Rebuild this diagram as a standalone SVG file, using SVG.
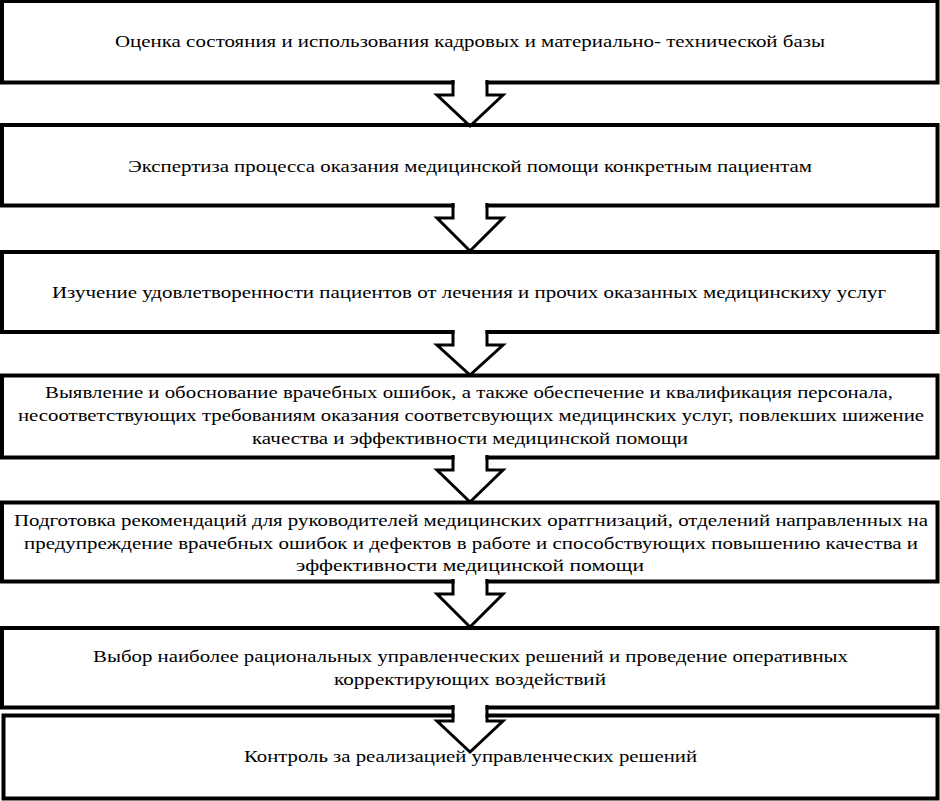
<svg xmlns="http://www.w3.org/2000/svg" width="940" height="801" viewBox="0 0 940 801">
<style>
.box{fill:#fff;stroke:#000;stroke-width:4}
.t{font-family:'Liberation Serif','Times New Roman','DejaVu Serif',serif;font-size:17px;fill:#000;text-anchor:middle}
.arr{fill:none;stroke:#000;stroke-width:3;stroke-linejoin:miter}
.gap{fill:#fff}
</style>
<rect width="940" height="801" fill="#fff"/>
<g id="node1">
<rect class="box" x="2" y="1" width="935.5" height="81.5"/>
<text class="t" x="470" y="47" textLength="710" lengthAdjust="spacingAndGlyphs">Оценка состояния и использования кадровых и материально- технической базы</text>
</g>
<g id="node2">
<rect class="box" x="2" y="125" width="935.5" height="80.5"/>
<text class="t" x="470" y="172" textLength="684" lengthAdjust="spacingAndGlyphs">Экспертиза процесса оказания медицинской помощи конкретным пациентам</text>
</g>
<g id="node3">
<rect class="box" x="2" y="252" width="935.5" height="80"/>
<text class="t" x="469" y="298" textLength="834" lengthAdjust="spacingAndGlyphs">Изучение удовлетворенности пациентов от лечения и прочих оказанных медицинскиху услуг</text>
</g>
<g id="node4">
<rect class="box" x="2" y="375.5" width="935.5" height="82"/>
<text class="t" x="469" y="398" textLength="848" lengthAdjust="spacingAndGlyphs">Выявление и обоснование врачебных ошибок, а также обеспечение и квалификация персонала,</text>
<text class="t" x="471" y="421" textLength="906" lengthAdjust="spacingAndGlyphs">несоответствующих требованиям оказания соответсвующих медицинских услуг, повлекших шижение</text>
<text class="t" x="470" y="444" textLength="436" lengthAdjust="spacingAndGlyphs">качества и эффективности медицинской помощи</text>
</g>
<g id="node5">
<rect class="box" x="2" y="502.5" width="935.5" height="79"/>
<text class="t" x="471" y="526" textLength="914" lengthAdjust="spacingAndGlyphs">Подготовка рекомендаций для руководителей медицинских оратгнизаций, отделений направленных на</text>
<text class="t" x="471" y="549" textLength="894" lengthAdjust="spacingAndGlyphs">предупреждение врачебных ошибок и дефектов в работе и способствующих повышению качества и</text>
<text class="t" x="470" y="571" textLength="348" lengthAdjust="spacingAndGlyphs">эффективности медицинской помощи</text>
</g>
<g id="node6">
<rect class="box" x="2" y="628" width="935.5" height="79.5"/>
<text class="t" x="470.5" y="662" textLength="755" lengthAdjust="spacingAndGlyphs">Выбор наиболее рациональных управленческих решений и проведение оперативных</text>
<text class="t" x="470" y="685" textLength="272" lengthAdjust="spacingAndGlyphs">корректирующих воздействий</text>
</g>
<g id="node7">
<rect class="box" x="3.5" y="715.5" width="934" height="83"/>
<text class="t" x="470.5" y="762" textLength="453" lengthAdjust="spacingAndGlyphs">Контроль за реализацией управленческих решений</text>
</g>
<g id="connectors">
<rect class="gap" x="454.5" y="79" width="31" height="15"/>
<path class="arr" d="M453,80 V95 H437 L470,126 L503,95 H487 V80"/>
<rect class="gap" x="454.5" y="202" width="31" height="15"/>
<path class="arr" d="M453,203 V218 H437 L470,251 L503,218 H487 V203"/>
<rect class="gap" x="454.5" y="329" width="31" height="15"/>
<path class="arr" d="M453,330 V345 H437 L470,375 L503,345 H487 V330"/>
<rect class="gap" x="454.5" y="454" width="31" height="15"/>
<path class="arr" d="M453,455 V470 H437 L470,502 L503,470 H487 V455"/>
<rect class="gap" x="454.5" y="578" width="31" height="15"/>
<path class="arr" d="M453,579 V594 H437 L470,627 L503,594 H487 V579"/>
<rect class="gap" x="454.5" y="704" width="31" height="17"/>
<path class="arr" d="M453,705 V721 H437 L470,752 L503,721 H487 V705"/>
</g>
</svg>
